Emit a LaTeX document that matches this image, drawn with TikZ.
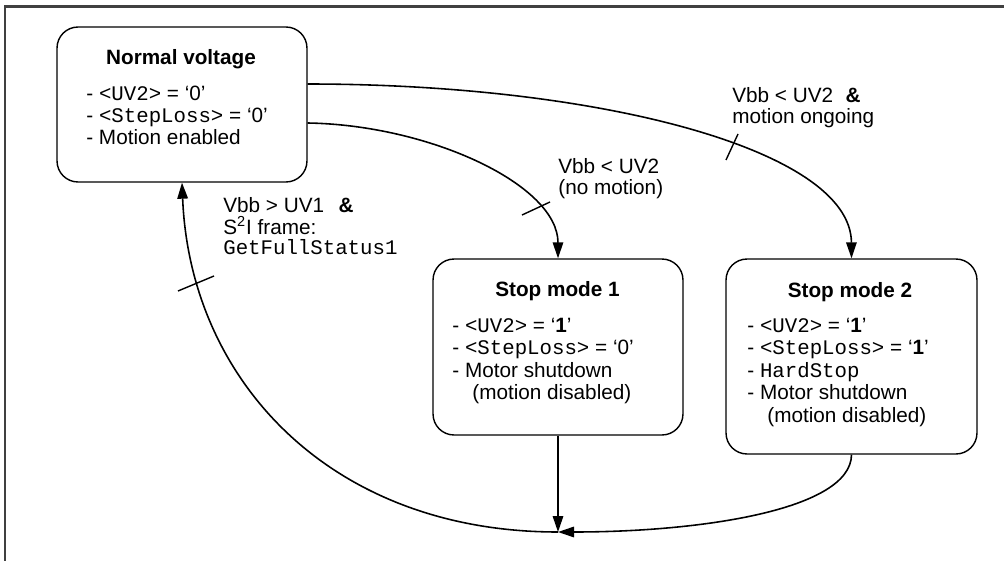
\documentclass[tikz,border=0pt]{standalone}
\usepackage{fontspec}
\setmainfont{Liberation Sans}
\setmonofont{Liberation Mono}
\usetikzlibrary{arrows.meta}
\begin{document}
\begin{tikzpicture}[x=0.02cm,y=-0.02cm,
  every node/.style={font=\fontsize{11.8pt}{12.6pt}\selectfont},
  state/.style={draw, line width=0.8pt, rounded corners=0.42cm, inner sep=0},
  ttl/.style={anchor=base, inner sep=0, font=\fontsize{11.8pt}{12.6pt}\selectfont\bfseries},
  txt/.style={anchor=base west, inner sep=0},
  conn/.style={line width=0.9pt, -{Triangle[length=0.32cm,width=0.21cm]}},
  tick/.style={line width=0.8pt},
  frameline/.style={line width=1.6pt, draw=black!75}
]
\path[use as bounding box] (0,0) rectangle (1004,561);
\draw[frameline] (5,561) -- (5,6.5) -- (1004,6.5);

% states
\node[state, minimum width=5cm, minimum height=3.1cm] (nv) at (182,104.5) {};
\node[state, minimum width=5cm, minimum height=3.52cm] (sm1) at (558,347) {};
\node[state, minimum width=5.02cm, minimum height=3.9cm] (sm2) at (851.5,356.5) {};

% Normal voltage texts
\node[ttl] (nvt) at (181,64) {Normal voltage};
\node[txt] (nv1) at (86,100) {- \texttt{<UV2>} = ‘0’};
\node[txt] (nv2) at (86,122) {- \texttt{<StepLoss>} = ‘0’};
\node[txt] (nv3) at (86,144) {- Motion enabled};

% Stop mode 1 texts
\node[ttl] (s1t) at (557.5,296) {Stop mode 1};
\node[txt] (s11) at (452,332) {- \texttt{<UV2>} = ‘\textbf{1}’};
\node[txt] (s12) at (452,354.5) {- \texttt{<StepLoss>} = ‘0’};
\node[txt] (s13) at (452,377) {- Motor shutdown};
\node[txt] (s14) at (472,399.5) {(motion disabled)};

% Stop mode 2 texts
\node[ttl] (s2t) at (850,297) {Stop mode 2};
\node[txt] (s21) at (747,332) {- \texttt{<UV2>} = ‘\textbf{1}’};
\node[txt] (s22) at (747,354.5) {- \texttt{<StepLoss>} = ‘\textbf{1}’};
\node[txt] (s23) at (747,377) {- \texttt{HardStop}};
\node[txt] (s24) at (747,399.5) {- Motor shutdown};
\node[txt] (s25) at (767,422) {(motion disabled)};

% labels
\node[txt] (l1a) at (732,102) {Vbb < UV2\hspace{0.6em}\textbf{\&}};
\node[txt] (l1b) at (732,123) {motion ongoing};
\node[txt] (l2a) at (558,173) {Vbb < UV2};
\node[txt] (l2b) at (558,194.5) {(no motion)};
\node[txt] (l3a) at (223,212) {Vbb > UV1\hspace{0.7em}\textbf{\&}};
\node[txt] (l3b) at (223,234) {S\textsuperscript{2}I frame:};
\node[txt] (l3c) at (223,254) {\texttt{GetFullStatus1}};

\coordinate (j) at (558,532);

% connectors
\draw[conn] ([yshift=0.41cm]nv.east) .. controls (600,84) and (851,150) .. (sm2.north);
\draw[conn] ([yshift=-0.37cm]nv.east) .. controls (430,125) and (558,185) .. (sm1.north);
\draw[conn] (sm1.south) -- (j);
\draw[conn] (sm2.south) .. controls (851,510) and (700,532) .. (j);
\draw[conn] (j) .. controls (330,532) and (190,380) .. (nv.south);

% ticks
\draw[tick] (738,134) -- (726,160);
\draw[tick] (522,215) -- (550,202);
\draw[tick] (178,291) -- (214,276);
\end{tikzpicture}
\end{document}
